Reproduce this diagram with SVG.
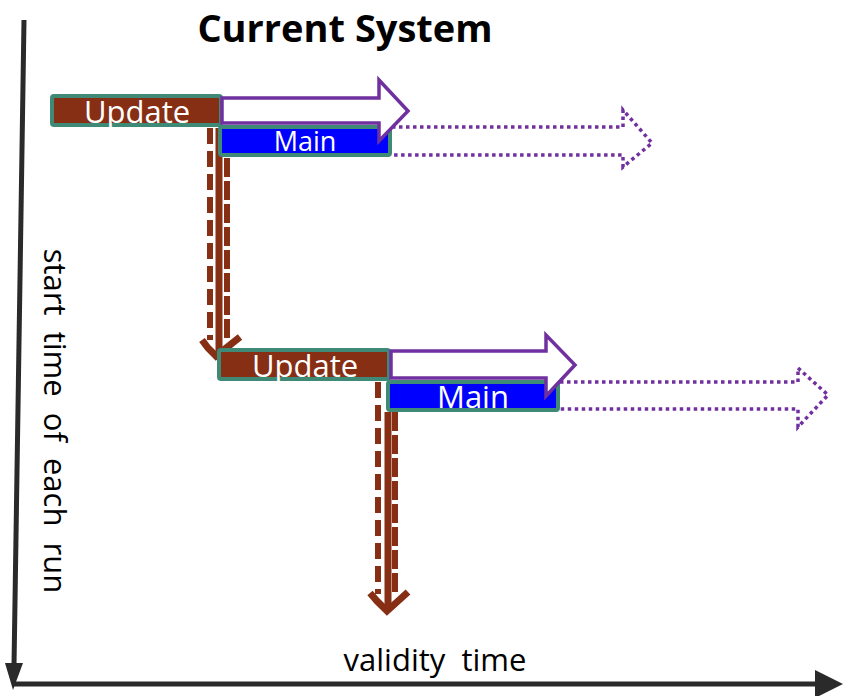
<svg xmlns="http://www.w3.org/2000/svg" width="843" height="696" viewBox="0 0 843 696">
<style>
.upd{fill:#862F15;stroke:#3E8A76;stroke-width:4}
.main{fill:#0000FF;stroke:#3E8A76;stroke-width:4}
.lbl{font-family:"Open Sans",sans-serif;fill:#FFFFFF;text-anchor:middle}
.big{fill:#FFFFFF;stroke:#7030A0;stroke-width:3.5;stroke-linejoin:miter}
.dot{fill:none;stroke:#7030A0;stroke-width:3.5;stroke-dasharray:3.5 3.5}
.bs{stroke:#862F15;stroke-width:7;fill:none}
.bdl{stroke:#862F15;stroke-width:6;fill:none;stroke-dasharray:16 7}
.bdr{stroke:#862F15;stroke-width:6;fill:none;stroke-dasharray:19 4}
.ax{stroke:#2A2A2A;stroke-width:5;fill:none}
.axt{font-family:"Open Sans",sans-serif;fill:#000000;font-size:31px}
</style>
<g id="axes">
<line class="ax" x1="24" y1="20" x2="14" y2="666"/>
<polygon points="5,663 23,663 13,690" fill="#2A2A2A"/>
<line class="ax" x1="14" y1="684" x2="818" y2="684"/>
<polygon points="815,670 843,684 815,698" fill="#2A2A2A"/>
</g>
<text x="345" y="42" font-family="'Open Sans',sans-serif" font-weight="bold" font-size="38" text-anchor="middle" fill="#000">Current System</text>
<text class="axt" x="435" y="671" text-anchor="middle" xml:space="preserve">validity  time</text>
<text class="axt" transform="translate(44,421) rotate(90)" text-anchor="middle" xml:space="preserve" font-size="32">start  time  of  each  run</text>
<g id="connectors">
<path class="dot" d="M392,127 H623 V110 L652,143 L623,167 V155 H392"/>
<path class="dot" d="M560,382 H798 V368 L828,395 L798,427 V409 H560"/>
<line class="bdl" x1="210" y1="128" x2="210" y2="340"/>
<line class="bdr" x1="227" y1="158" x2="227" y2="340"/>
<line class="bs" x1="219" y1="128" x2="219" y2="352"/>
<polyline class="bs" points="202,340 208,348 216,356 240,337" stroke-width="5"/>
<line class="bdl" x1="378" y1="382" x2="378" y2="594"/>
<line class="bdr" x1="395" y1="412" x2="395" y2="594"/>
<line class="bs" x1="388" y1="412" x2="388" y2="606"/>
<polyline class="bs" points="370,593 377,601 387,611 408,592" stroke-width="5"/>
</g>
<g id="update1">
<rect class="upd" x="52" y="96" width="169" height="29" rx="2"/>
<text class="lbl" x="137" y="123" font-size="31">Update</text>
</g>
<g id="main1">
<rect class="main" x="220" y="127" width="170" height="28" rx="2"/>
<text class="lbl" x="305" y="151" font-size="27">Main</text>
</g>
<g id="arrow1">
<path class="big" d="M222,98 H379 V80 L408,111 L379,141 V123 H222 Z"/>
</g>
<g id="update2">
<rect class="upd" x="219" y="350" width="170" height="29" rx="2"/>
<text class="lbl" x="305" y="377" font-size="31">Update</text>
</g>
<g id="main2">
<rect class="main" x="388" y="382" width="170" height="28" rx="2"/>
<text class="lbl" x="473" y="408" font-size="31">Main</text>
</g>
<g id="arrow2">
<path class="big" d="M391,351 H546 V335 L575,365 L546,396 V378 H391 Z"/>
</g>
</svg>
